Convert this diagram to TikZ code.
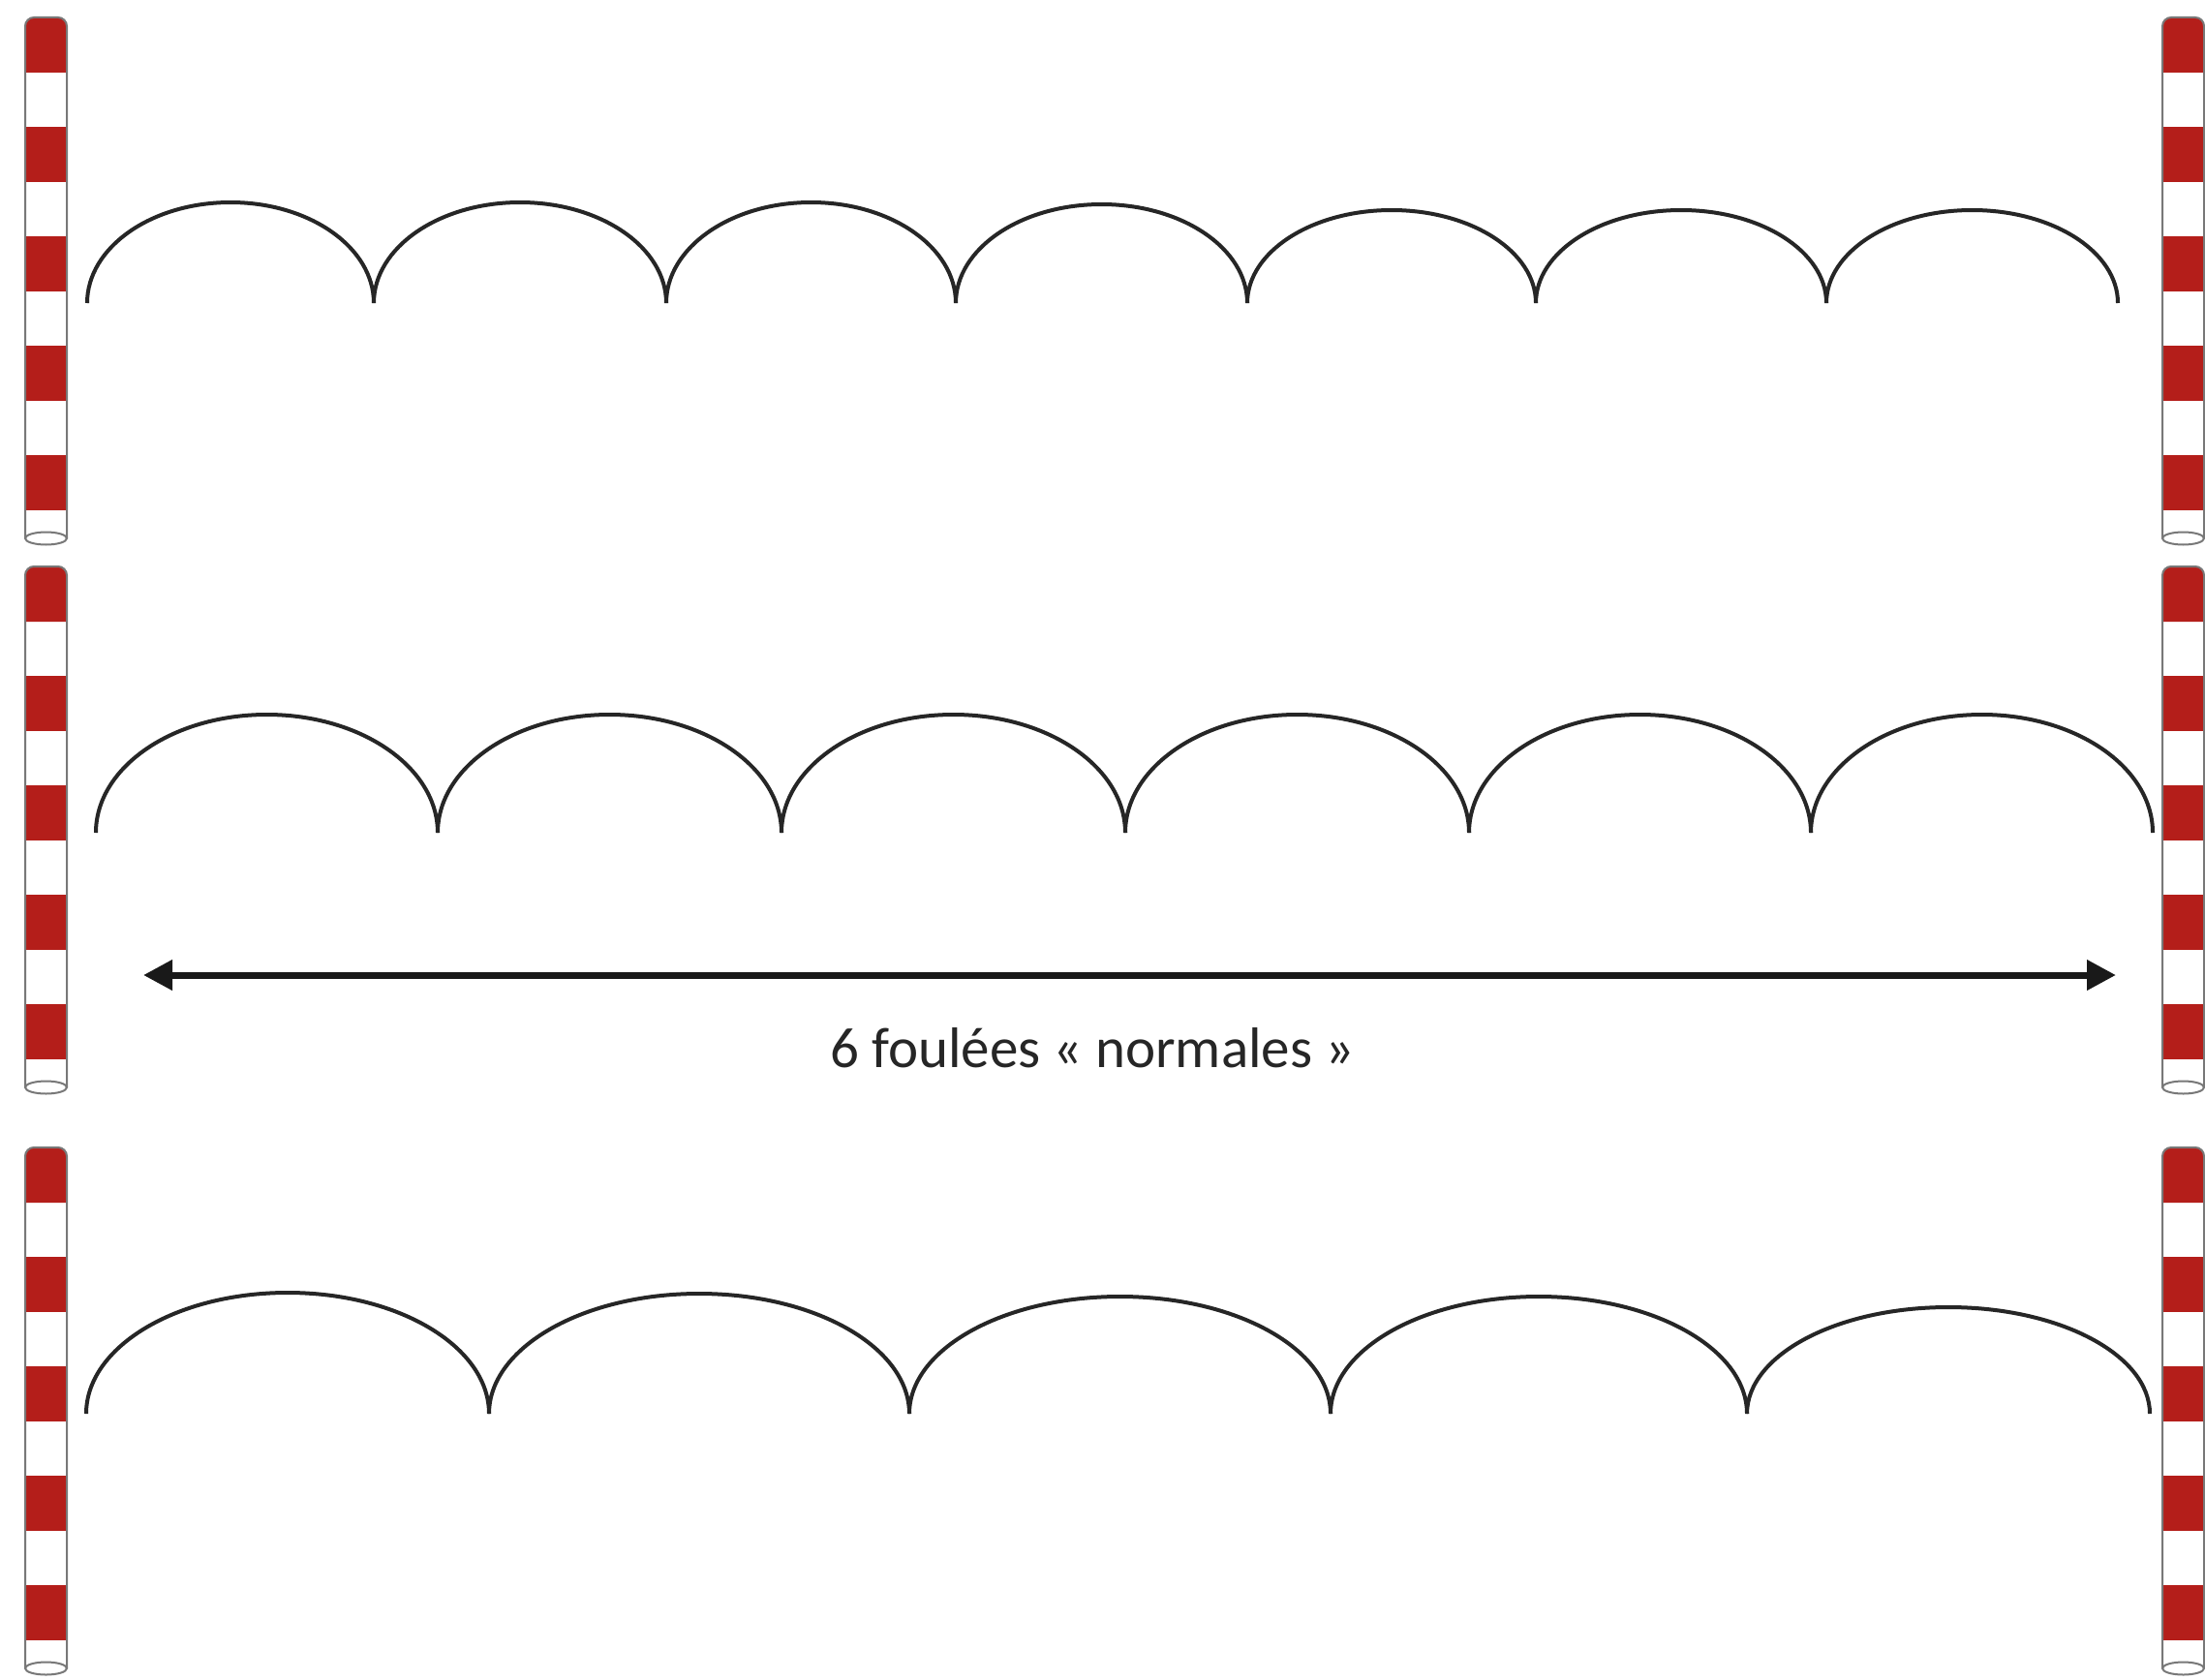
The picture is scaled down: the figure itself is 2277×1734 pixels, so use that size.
\documentclass[tikz,border=0pt]{standalone}
\usepackage{fontspec}
\setmainfont{Carlito}
\usetikzlibrary{arrows.meta}
\definecolor{polered}{RGB}{180,30,26}
\definecolor{polegray}{RGB}{120,120,120}
\newcommand\drawpole[2]{%
  \fill[white] (#1,#2) rectangle ++(43,538);
  \foreach \k in {1,2,3,4} {\fill[polered] (#1,#2+113*\k) rectangle ++(43,57);}
  \fill[polered] (#1,#2+57) [rounded corners=9pt] -- (#1,#2) -- (#1+43,#2) [sharp corners] -- (#1+43,#2+57) -- cycle;
  \draw[polegray, line width=2pt] (#1,#2+538) [rounded corners=9pt] -- (#1,#2) -- (#1+43,#2) [sharp corners] -- (#1+43,#2+538);
  \draw[polegray, line width=2pt, fill=white] (#1+21.5,#2+538) ellipse [x radius=21.5, y radius=6.5];
}
\begin{document}
\begin{tikzpicture}[x=1pt,y=-1pt,
  stride/.style={line width=4pt, black!85},
  span/.style={line width=7pt, black!90, {Triangle[length=30pt,width=30pt]}-{Triangle[length=30pt,width=30pt]}},
  captiontext/.style={font=\fontsize{59}{70}\selectfont, text=black!85, inner sep=0pt}]
\useasboundingbox (0,0) rectangle (2277,1734);
\fill[white] (0,0) rectangle (2277,1734);
% poles
\foreach \y in {18,585,1185} {
  \drawpole{26}{\y}
  \drawpole{2233}{\y}
}
% row 1: 7 strides
\foreach \a/\b/\h in {90/386/104, 386/688/104, 688/987/104, 987/1288/102, 1288/1586/96, 1586/1886/96, 1886/2187/96} {
  \pgfmathsetmacro\r{(\b-\a)/2}
  \draw[stride] (\a,313) arc[start angle=180, end angle=360, x radius=\r, y radius=\h];
}
% row 2: 6 strides
\foreach \a/\b/\h in {99/452/122, 452/807/122, 807/1162/122, 1162/1517/122, 1517/1870/122, 1870/2223/122} {
  \pgfmathsetmacro\r{(\b-\a)/2}
  \draw[stride] (\a,860) arc[start angle=180, end angle=360, x radius=\r, y radius=\h];
}
% row 3: 5 strides
\foreach \a/\b/\h in {89/505/125, 505/939/124, 939/1374/121, 1374/1804/121, 1804/2220/110} {
  \pgfmathsetmacro\r{(\b-\a)/2}
  \draw[stride] (\a,1460) arc[start angle=180, end angle=360, x radius=\r, y radius=\h];
}
% distance arrow
\coordinate (aL) at (148,1007);
\coordinate (aR) at (2185,1007);
\draw[span] (aL) -- (aR);
\node[captiontext, anchor=base] (cap) at (1128,1102) {6 foulées « normales »};
\end{tikzpicture}
\end{document}
